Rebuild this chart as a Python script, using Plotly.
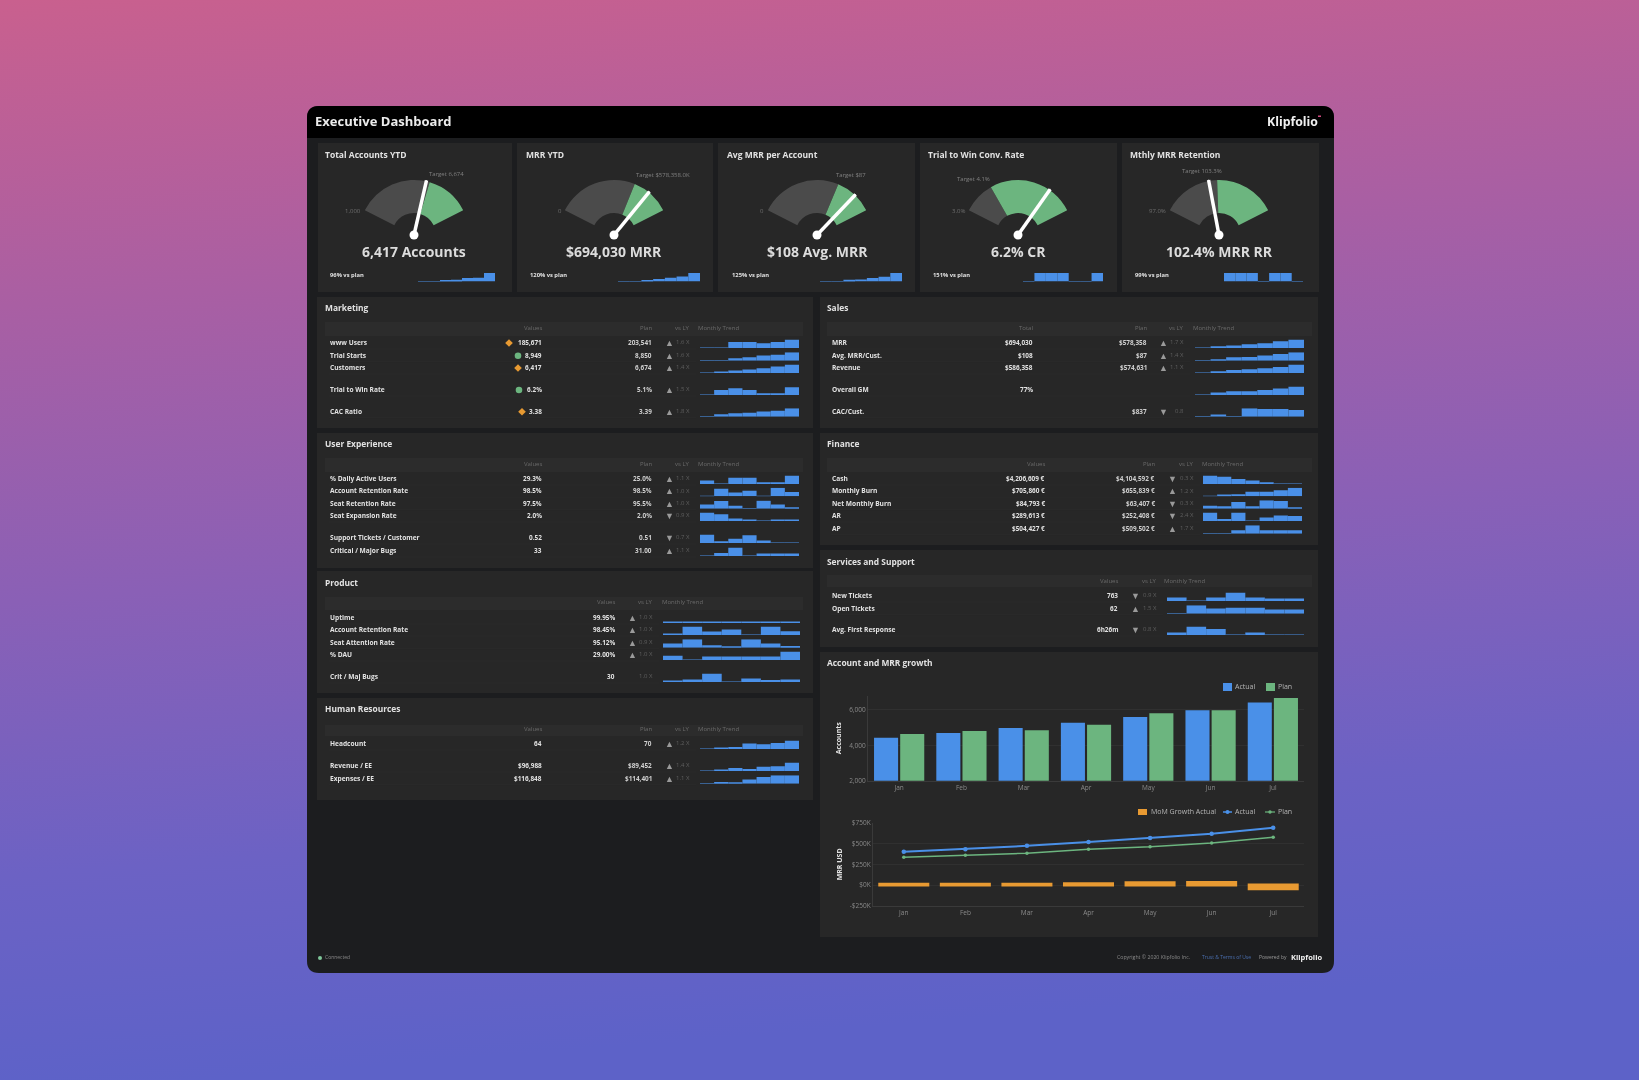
import base64
import plotly.graph_objects as go

W, H = 1639, 1080
FONT = 'Open Sans'

# gauge cards
gauge_titles = ['Total Accounts YTD', 'MRR YTD', 'Avg MRR per Account', 'Trial to Win Conv. Rate', 'Mthly MRR Retention']
gauge_min = [1000, 0, 0, 3.0, 97.0]
gauge_max = [10000, 857000, 128, 7.12, 110.0]
gauge_target = [6674, 578358, 87, 4.1, 103.3]
gauge_value = [6417, 694030, 108, 6.2, 102.4]
gauge_min_labels = ['1,000', '0', '0', '3.0%', '97.0%']
gauge_target_labels = ['Target 6,674', 'Target $578,358.0K', 'Target $87', 'Target 4.1%', 'Target 103.3%']
gauge_big_labels = ['6,417 Accounts', '$694,030 MRR', '$108 Avg. MRR', '6.2% CR', '102.4% MRR RR']
gauge_plan_labels = ['96% vs plan', '120% vs plan', '125% vs plan', '151% vs plan', '99% vs plan']
gauge_trends = [
    [.03, .05, .1, .2, .4, .45, 1],
    [.03, .05, .15, .3, .45, .6, 1],
    [.03, .05, .2, .25, .4, .55, 1],
    [.03, 1, 1, 1, .03, .03, 1],
    [1, 1, 1, .03, 1, 1, .03],
]

# tables
marketing_labels = ['www Users', 'Trial Starts', 'Customers', 'Trial to Win Rate', 'CAC Ratio']
marketing_values = ['185,671', '8,949', '6,417', '6.2%', '3.38']
marketing_plan = ['203,541', '8,850', '6,674', '5.1%', '3.39']
marketing_vs = ['1.6 X', '1.6 X', '1.4 X', '1.5 X', '1.8 X']
marketing_arrows = ['▲', '▲', '▲', '▲', '▲']
marketing_status = ['warn', 'ok', 'warn', 'ok', 'warn']
marketing_trend = [
    [.05, .05, .7, .7, .55, .7, 1],
    [.03, .05, .3, .4, .6, .7, 1],
    [.05, .15, .3, .4, .55, .75, 1],
    [.03, .6, .8, .6, .2, .2, .9],
    [.05, .3, .4, .45, .6, .7, 1],
]

ux_labels = ['% Daily Active Users', 'Account Retention Rate', 'Seat Retention Rate', 'Seat Expansion Rate', 'Support Tickets / Customer', 'Critical / Major Bugs']
ux_values = ['29.3%', '98.5%', '97.5%', '2.0%', '0.52', '33']
ux_plan = ['25.0%', '98.5%', '95.5%', '2.0%', '0.51', '31.00']
ux_vs = ['1.1 X', '1.0 X', '1.0 X', '0.9 X', '0.7 X', '1.1 X']
ux_arrows = ['▲', '▲', '▲', '▼', '▼', '▲']
ux_trend = [
    [.4, .02, .75, .75, .2, .2, 1],
    [.05, .9, .45, .65, .05, 1, .5],
    [.5, .9, .35, .05, .95, .5, .1],
    [1, .8, .3, .1, .05, .1, .1],
    [1, .2, .5, .9, .3, .05, .05],
    [.05, .35, 1, .05, .3, .3, .3],
]

product_labels = ['Uptime', 'Account Retention Rate', 'Seat Attention Rate', '% DAU', 'Crit / Maj Bugs']
product_values = ['99.95%', '98.45%', '95.12%', '29.00%', '30']
product_vs = ['1.0 X', '1.0 X', '0.9 X', '1.0 X', '1.0 X']
product_arrows = ['▲', '▲', '▲', '▲', '']
product_trend = [
    [.1, .1, .1, .1, .1, .1, .1],
    [.1, 1, .4, .65, .05, 1, .45],
    [.5, 1, .3, .1, 1, .5, .2],
    [.5, .05, .4, .4, .4, .4, 1],
    [.1, .3, 1, .05, .4, .25, .3],
]

hr_labels = ['Headcount', 'Revenue / EE', 'Expenses / EE']
hr_values = ['64', '$96,988', '$116,848']
hr_plan = ['70', '$89,452', '$114,401']
hr_vs = ['1.2 X', '1.4 X', '1.1 X']
hr_arrows = ['▲', '▲', '▲']
hr_trend = [
    [.03, .15, .25, .65, .55, .7, 1],
    [.03, .1, .35, .25, .5, .55, 1],
    [.05, .2, .15, .5, .8, 1, 1],
]

sales_labels = ['MRR', 'Avg. MRR/Cust.', 'Revenue', 'Overall GM', 'CAC/Cust.']
sales_values = ['$694,030', '$108', '$586,358', '77%', '']
sales_plan = ['$578,358', '$87', '$574,631', '', '$837']
sales_vs = ['1.7 X', '1.4 X', '1.1 X', '', '0.8']
sales_arrows = ['▲', '▲', '▲', '', '▼']
sales_trend = [
    [.05, .2, .3, .45, .55, .8, 1],
    [.05, .1, .4, .45, .6, .8, 1],
    [.05, .2, .35, .45, .55, .7, 1],
    [.05, .3, .45, .45, .6, .75, 1],
    [.03, .25, .03, 1, .9, .9, .8],
]

finance_labels = ['Cash', 'Monthly Burn', 'Net Monthly Burn', 'AR', 'AP']
finance_values = ['$4,206,609 €', '$705,860 €', '$84,793 €', '$289,613 €', '$504,427 €']
finance_plan = ['$4,104,592 €', '$655,839 €', '$63,407 €', '$252,408 €', '$509,502 €']
finance_vs = ['0.3 X', '1.2 X', '0.3 X', '2.4 X', '1.7 X']
finance_arrows = ['▼', '▲', '▼', '▼', '▲']
finance_trend = [
    [1, .85, .6, .4, .2, .05, .03],
    [.03, .2, .25, .55, .55, .7, 1],
    [.35, .3, .8, .3, 1, .9, .1],
    [1, .25, 1, .03, .4, .65, .6],
    [.03, .03, .4, 1, .4, .4, .4],
]

services_labels = ['New Tickets', 'Open Tickets', 'Avg. First Response']
services_values = ['763', '62', '6h26m']
services_vs = ['0.9 X', '1.5 X', '0.8 X']
services_arrows = ['▼', '▲', '▼']
services_trend = [
    [.4, .02, .4, 1, .4, .3, .3],
    [.05, 1, .6, .7, .7, .5, .5],
    [.3, 1, .7, .03, .3, .03, .03],
]

# growth charts
months = ['Jan', 'Feb', 'Mar', 'Apr', 'May', 'Jun', 'Jul']
accounts_actual = [4434, 4698, 4981, 5283, 5604, 5981, 6417]
accounts_plan = [4642, 4811, 4849, 5170, 5811, 5981, 6674]
mrr_actual = [401, 434, 474, 519, 568, 620, 694]
mrr_plan = [336, 361, 385, 434, 462, 507, 578]
mrr_growth = [8, 8, 8, 15, 28, 30, -45]

BLUE = '#4a90e8'
GREEN = '#6cb57f'
ORANGE = '#e89a32'
PANEL = '#272727'
BAND = '#2c2c2c'
TEXT = '#e2e2e2'
MUTED = '#6a6a6a'


def fx(x):
    return x / W


def fy(y):
    return 1 - y / H


annotations = []
shapes = []
axes = {}
traces = []
axis_count = [2]


def label(x, y, text, size=6.5, color=TEXT, anchor='left', bold=False):
    nudge = {'left': -1, 'right': 1, 'center': 0}[anchor]
    annotations.append(dict(
        x=fx(x + nudge), y=fy(y - 0.7), xref='paper', yref='paper', text=text, showarrow=False,
        xanchor=anchor, yanchor='middle', borderpad=0, align=anchor,
        font=dict(family=FONT, size=size, color=color, weight=700 if bold else 400),
    ))


def rect(x0, y0, x1, y1, color):
    shapes.append(dict(type='rect', xref='paper', yref='paper', layer='below',
                       x0=fx(x0), x1=fx(x1), y0=fy(y0), y1=fy(y1),
                       fillcolor=color, line_width=0))


def dot(x, y, r, color):
    shapes.append(dict(type='circle', xref='paper', yref='paper', layer='below',
                       x0=fx(x - r), x1=fx(x + r), y0=fy(y + r), y1=fy(y - r),
                       fillcolor=color, line_width=0))


def diamond(x, y, r, color):
    shapes.append(dict(type='path', xref='paper', yref='paper', layer='below',
                       path=f'M{fx(x - r)},{fy(y)} L{fx(x)},{fy(y - r)} L{fx(x + r)},{fy(y)} L{fx(x)},{fy(y + r)} Z',
                       fillcolor=color, line_width=0))


def rounded_path(x0, y0, x1, y1, r, square_bottom=False):
    p = (f'M{fx(x0 + r)},{fy(y0)} L{fx(x1 - r)},{fy(y0)} '
         f'Q{fx(x1)},{fy(y0)} {fx(x1)},{fy(y0 + r)} ')
    if square_bottom:
        p += f'L{fx(x1)},{fy(y1)} L{fx(x0)},{fy(y1)} '
    else:
        p += (f'L{fx(x1)},{fy(y1 - r)} Q{fx(x1)},{fy(y1)} {fx(x1 - r)},{fy(y1)} '
              f'L{fx(x0 + r)},{fy(y1)} Q{fx(x0)},{fy(y1)} {fx(x0)},{fy(y1 - r)} ')
    p += f'L{fx(x0)},{fy(y0 + r)} Q{fx(x0)},{fy(y0)} {fx(x0 + r)},{fy(y0)} Z'
    return p


def sparkline(values, x0, x1, row_y):
    axis_count[0] += 1
    n = axis_count[0]
    axes[f'xaxis{n}'] = dict(domain=[fx(x0), fx(x1)], range=[-0.5, len(values) - 0.5],
                             visible=False, fixedrange=True, anchor=f'y{n}')
    axes[f'yaxis{n}'] = dict(domain=[fy(row_y + 5), fy(row_y - 3.5)], range=[0, 1],
                             visible=False, fixedrange=True, anchor=f'x{n}')
    traces.append(go.Bar(x=list(range(len(values))), y=values, width=1, marker_color=BLUE,
                         marker_line_width=0, xaxis=f'x{n}', yaxis=f'y{n}',
                         showlegend=False, hoverinfo='skip'))


def table(title, title_x, title_y, band, head_y, rows, labels, values, plan, vs, arrows, trends,
          cols, spark, value_head='Values'):
    label(title_x, title_y, title, 8.4, TEXT, bold=True)
    rect(band[0], band[1], band[2], band[3], BAND)
    label(cols['value'], head_y, value_head, 6, MUTED, 'right')
    if plan is not None:
        label(cols['plan'], head_y, 'Plan', 6, MUTED, 'right')
    label(cols['vs'], head_y, 'vs LY', 6, MUTED, 'right')
    label(cols['trend'], head_y, 'Monthly Trend', 6, MUTED)
    for i, row_y in enumerate(rows):
        label(cols['label'], row_y, labels[i], 6.6, TEXT, bold=True)
        label(cols['value'], row_y, values[i], 6.4, TEXT, 'right', bold=True)
        if plan is not None:
            label(cols['plan'], row_y, plan[i], 6.4, '#cfcfcf', 'right', bold=True)
        label(cols['arrow'], row_y, arrows[i], 9, '#9a9a9a', 'center')
        label(cols['vs'], row_y, vs[i], 6, '#5e5e5e', 'right')
        shapes.append(dict(type='line', xref='paper', yref='paper', layer='below',
                           x0=fx(band[0] + 4), x1=fx(cols['vs'] + 6),
                           y0=fy(row_y + 6), y1=fy(row_y + 6),
                           line=dict(color='#2b2b2b', width=0.6)))
        sparkline(trends[i], spark[0], spark[1], row_y)


# page background
svg = ('<svg xmlns="http://www.w3.org/2000/svg" width="1639" height="1080" preserveAspectRatio="none">'
       '<defs><linearGradient id="g" x1="0" y1="0" x2="0.12" y2="1">'
       '<stop offset="0" stop-color="#c9608e"/><stop offset="0.28" stop-color="#a95fa3"/>'
       '<stop offset="0.55" stop-color="#8a60b6"/><stop offset="0.8" stop-color="#6c62c4"/>'
       '<stop offset="1" stop-color="#5d62c8"/></linearGradient></defs>'
       '<rect width="1639" height="1080" fill="url(#g)"/></svg>')
bg_uri = 'data:image/svg+xml;base64,' + base64.b64encode(svg.encode()).decode()

# dashboard frame
shapes.append(dict(type='path', xref='paper', yref='paper', layer='below',
                   path=rounded_path(307, 106, 1334, 973, 12), fillcolor='#1c1d1f', line_width=0))
shapes.append(dict(type='path', xref='paper', yref='paper', layer='below',
                   path=rounded_path(307, 106, 1334, 138, 12, square_bottom=True), fillcolor='#000000', line_width=0))
label(315, 122, 'Executive Dashboard', 13, '#ececec', bold=True)
label(1318, 122, 'Klipfolio', 12.3, '#f0f0f0', 'right', bold=True)
rect(1318, 115.5, 1321, 117, '#d04a80')

# gauge cards
card_edges = [(318, 512), (517, 713), (718, 915), (920, 1117), (1122, 1319)]
pivots = [414, 614, 817, 1018, 1219]
title_xs = [325, 526, 727, 928, 1130]
plan_xs = [330, 530, 732, 933, 1135]
target_pos = [(446, 175), (663, 176), (851, 176), (973, 180), (1202, 172)]
min_xs = [353, 560, 762, 958, 1157]
spark_xs = [(418, 495), (618, 700), (820, 902), (1023, 1103), (1224, 1303)]
PIVOT_Y = 235
GAUGE_R = 62
ARC_START, ARC_SWEEP = 153.4, 126.8
polars = {}

for i in range(5):
    rect(card_edges[i][0], 143, card_edges[i][1], 292, PANEL)
    label(title_xs[i], 155, gauge_titles[i], 8.5, TEXT, bold=True)
    label(target_pos[i][0], target_pos[i][1], gauge_target_labels[i], 6, '#808080', 'center')
    label(min_xs[i], 212, gauge_min_labels[i], 6, '#6e6e6e', 'center')
    label(pivots[i], 252, gauge_big_labels[i], 14, '#dcdcdc', 'center', bold=True)
    label(plan_xs[i], 276, gauge_plan_labels[i], 5.8, TEXT, bold=True)
    sparkline(gauge_trends[i], spark_xs[i][0], spark_xs[i][1], 276.5)

    span = gauge_max[i] - gauge_min[i]
    target_deg = ARC_START - (gauge_target[i] - gauge_min[i]) / span * ARC_SWEEP
    value_deg = ARC_START - (gauge_value[i] - gauge_min[i]) / span * ARC_SWEEP
    end_deg = ARC_START - ARC_SWEEP
    sub = 'polar' if i == 0 else f'polar{i + 1}'
    polars[sub] = dict(
        domain=dict(x=[fx(pivots[i] - GAUGE_R), fx(pivots[i] + GAUGE_R)],
                    y=[fy(PIVOT_Y), fy(PIVOT_Y - GAUGE_R)]),
        sector=[0, 180], bgcolor='rgba(0,0,0,0)',
        radialaxis=dict(visible=False, range=[0, GAUGE_R]),
        angularaxis=dict(visible=False, direction='counterclockwise', rotation=0, thetaunit='degrees'),
    )
    traces.append(go.Barpolar(r=[33, 33], base=[22, 22],
                              theta=[(ARC_START + target_deg) / 2, (target_deg + end_deg) / 2],
                              width=[ARC_START - target_deg, target_deg - end_deg],
                              marker=dict(color=['#4b4b4b', GREEN], line_width=0),
                              subplot=sub, showlegend=False, hoverinfo='skip'))
    traces.append(go.Scatterpolar(r=[0, 56], theta=[value_deg, value_deg], mode='lines+markers',
                                  line=dict(color='white', width=3.5),
                                  marker=dict(size=[9, 1], color='white', opacity=1, line_width=0),
                                  subplot=sub, showlegend=False, hoverinfo='skip'))

# tables
left = dict(label=330, value=542, plan=652, arrow=669, vs=690, trend=698)
table_rows_a = [343, 355.7, 368, 390, 411.7]
table_rows_b = [479, 491.3, 503.7, 516, 538, 551]

rect(317, 297, 813, 428, PANEL)
table('Marketing', 325, 308, (325, 322, 803, 336), 329, table_rows_a, marketing_labels,
      marketing_values, marketing_plan, marketing_vs, marketing_arrows, marketing_trend, left, (700, 799))
status_xs = [509, 518, 518, 519, 522]
for i, row_y in enumerate(table_rows_a):
    if marketing_status[i] == 'ok':
        dot(status_xs[i], row_y, 3.3, GREEN)
    else:
        diamond(status_xs[i], row_y, 3.8, ORANGE)

rect(317, 433, 813, 568, PANEL)
table('User Experience', 325, 444, (325, 458, 803, 472), 465, table_rows_b, ux_labels,
      ux_values, ux_plan, ux_vs, ux_arrows, ux_trend, left, (700, 799))

rect(317, 571, 813, 693, PANEL)
table('Product', 325, 583, (325, 597, 803, 610), 603, [618, 630, 642.7, 655, 677], product_labels,
      product_values, None, product_vs, product_arrows, product_trend,
      dict(label=330, value=615, arrow=632, vs=653, trend=662), (663, 800))

rect(317, 698, 813, 800, PANEL)
table('Human Resources', 325, 709, (325, 725, 803, 736), 730, [744, 766, 778.7], hr_labels,
      hr_values, hr_plan, hr_vs, hr_arrows, hr_trend, left, (700, 799))

rect(820, 297, 1318, 428, PANEL)
table('Sales', 827, 308, (827, 322, 1312, 336), 329, table_rows_a, sales_labels,
      sales_values, sales_plan, sales_vs, sales_arrows, sales_trend,
      dict(label=832, value=1033, plan=1147, arrow=1163, vs=1184, trend=1193), (1195, 1304), value_head='Total')

rect(820, 433, 1318, 545, PANEL)
table('Finance', 827, 444, (827, 458, 1312, 472), 465, [479, 491.3, 503.7, 516, 528.7], finance_labels,
      finance_values, finance_plan, finance_vs, finance_arrows, finance_trend,
      dict(label=832, value=1045, plan=1155, arrow=1172, vs=1194, trend=1202), (1203, 1302))

rect(820, 550, 1318, 647, PANEL)
table('Services and Support', 827, 562, (827, 575, 1312, 587), 582, [596, 608.7, 630], services_labels,
      services_values, None, services_vs, services_arrows, services_trend,
      dict(label=832, value=1118, arrow=1135, vs=1157, trend=1164), (1167, 1304))

# growth panel
rect(820, 652, 1318, 937, PANEL)
label(827, 663, 'Account and MRR growth', 8.4, TEXT, bold=True)

# legends, placed by hand since a plotly legend can't be packed this tight
rect(1223, 683, 1232, 691, BLUE)
label(1235, 687, 'Actual', 7, '#b5b5b5')
rect(1266, 683, 1275, 691, GREEN)
label(1278, 687, 'Plan', 7, '#b5b5b5')
rect(1138, 809, 1147, 815, ORANGE)
label(1151, 812, 'MoM Growth Actual', 7, '#b5b5b5')
shapes.append(dict(type='line', xref='paper', yref='paper', x0=fx(1223), x1=fx(1232), y0=fy(812), y1=fy(812),
                   line=dict(color=BLUE, width=1.5)))
dot(1227.5, 812, 2, BLUE)
label(1235, 812, 'Actual', 7, '#b5b5b5')
shapes.append(dict(type='line', xref='paper', yref='paper', x0=fx(1265), x1=fx(1275), y0=fy(812), y1=fy(812),
                   line=dict(color=GREEN, width=1.2)))
dot(1270, 812, 1.7, GREEN)
label(1278, 812, 'Plan', 7, '#b5b5b5')

tick_font = dict(family=FONT, size=6.5, color='#8a8a8a')
title_font = dict(family=FONT, size=7, color=TEXT, weight=700)

fig = go.Figure()
fig.add_trace(go.Bar(x=months, y=accounts_actual, name='Actual', marker_color=BLUE, marker_line_width=0,
                     xaxis='x', yaxis='y'))
fig.add_trace(go.Bar(x=months, y=accounts_plan, name='Plan', marker_color=GREEN, marker_line_width=0,
                     xaxis='x', yaxis='y'))
fig.add_trace(go.Bar(x=months, y=mrr_growth, name='MoM Growth Actual', width=0.78, marker_color=ORANGE,
                     marker_line=dict(color=ORANGE, width=3), xaxis='x2', yaxis='y2'))
fig.add_trace(go.Scatter(x=months, y=mrr_actual, name='Actual', mode='lines+markers',
                         line=dict(color=BLUE, width=2), marker=dict(size=4.5),
                         xaxis='x2', yaxis='y2'))
fig.add_trace(go.Scatter(x=months, y=mrr_plan, name='Plan', mode='lines+markers',
                         line=dict(color=GREEN, width=1.5), marker=dict(size=3.5),
                         xaxis='x2', yaxis='y2'))
fig.add_traces(traces)

footer_y = 958
dot(320, footer_y, 2, '#7fc79a')
label(325, footer_y, 'Connected', 5, '#8a8a8a')
label(1190, footer_y, 'Copyright © 2020 Klipfolio Inc.', 5.2, '#8a8a8a', 'right')
label(1251, footer_y, 'Trust & Terms of Use', 5, '#4a6fb0', 'right')
label(1287, footer_y, 'Powered by', 5, '#9a9a9a', 'right')
label(1322, footer_y, 'Klipfolio', 7.5, '#f0f0f0', 'right', bold=True)

fig.update_layout(
    width=W, height=H, margin=dict(l=0, r=0, t=0, b=0, pad=0, autoexpand=False),
    paper_bgcolor='rgba(0,0,0,0)', plot_bgcolor='rgba(0,0,0,0)',
    showlegend=False,
    barmode='group', bargap=0.16, bargroupgap=0.08,
    annotations=annotations, shapes=shapes,
    images=[dict(source=bg_uri, xref='paper', yref='paper', x=0, y=1, sizex=1, sizey=1,
                 xanchor='left', yanchor='top', sizing='stretch', layer='below')],
    xaxis=dict(domain=[fx(868), fx(1304)], anchor='y', tickfont=tick_font, showgrid=False,
               showline=True, linecolor='#3a3a3a', ticks='', fixedrange=True),
    yaxis=dict(domain=[fy(780.7), fy(695.8)], anchor='x', range=[2000, 6800], tickvals=[2000, 4000, 6000],
               tickformat=',', tickfont=tick_font, gridcolor='#303030', showline=True, linecolor='#3a3a3a',
               zeroline=False, ticks='', fixedrange=True,
               title=dict(text='Accounts', font=title_font, standoff=6)),
    xaxis2=dict(domain=[fx(873), fx(1304)], anchor='y2', tickfont=tick_font, showgrid=False,
                showline=True, linecolor='#3a3a3a', ticks='', fixedrange=True),
    yaxis2=dict(domain=[fy(905.7), fy(823)], anchor='x2', range=[-250, 750], tickvals=[-250, 0, 250, 500, 750],
                ticktext=['-$250K', '$0K', '$250K', '$500K', '$750K'], tickfont=tick_font,
                gridcolor='#303030', showline=True, linecolor='#3a3a3a', zeroline=False, ticks='', fixedrange=True,
                title=dict(text='MRR USD', font=title_font, standoff=6)),
    **axes, **polars,
)

# the reference is a soft, upscaled screenshot
fig.write_html("out.html", config=dict(displayModeBar=False),
               post_script="document.body.style.margin='0';document.body.style.overflow='hidden';"
                           "document.body.style.background='#8a60b6';"
                           "document.getElementById('{plot_id}').style.filter='blur(0.55px)';")
